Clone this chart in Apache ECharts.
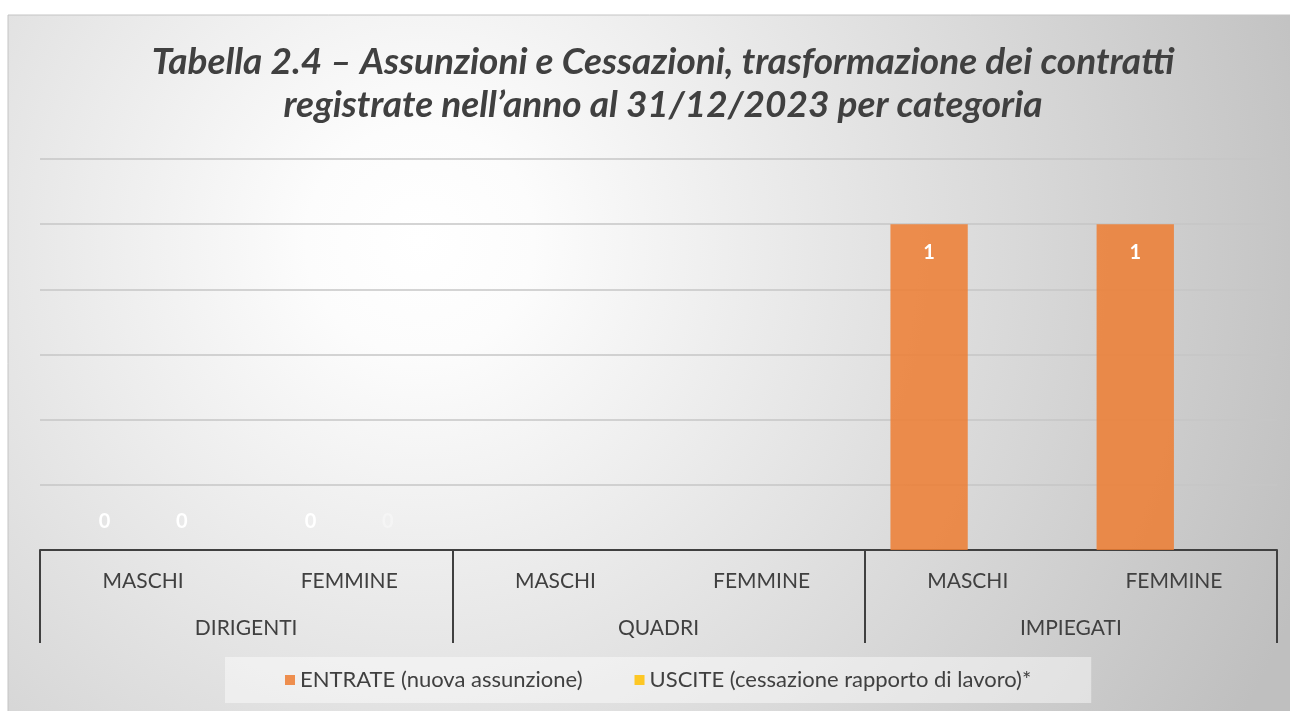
<!DOCTYPE html>
<html>
<head>
<meta charset="utf-8">
<script src="https://cdn.jsdelivr.net/npm/echarts@6/dist/echarts.min.js"></script>
<style>
  html, body { margin: 0; padding: 0; background: #fff; }
  #main { width: 1290px; height: 711px; }
</style>
</head>
<body>
<div id="main"></div>
<script>
// dati
const sottoCategorie = ['MASCHI', 'FEMMINE', 'MASCHI', 'FEMMINE', 'MASCHI', 'FEMMINE'];
const categorie = ['DIRIGENTI', 'QUADRI', 'IMPIEGATI'];
const entrate = [0, 0, null, null, 1, 1];
const uscite = [0, 0, null, null, null, null];
const nomeEntrate = 'ENTRATE (nuova assunzione)';
const nomeUscite = 'USCITE (cessazione rapporto di lavoro)*';
const yTicks = { min: 0, max: 1.2, interval: 0.2 };

const FONT = 'Lato';
const chart = echarts.init(document.getElementById('main'));

// etichetta: "0" appoggiato sull'asse, "1" dentro la barra
function toData(arr, faint) {
  return arr.map(function (v, i) {
    if (v === null) return '-';
    if (v === 0) {
      return {
        value: v,
        label: {
          position: 'top', distance: 18,
          color: (faint && i === 1) ? 'rgba(255,255,255,0.35)' : '#fff'
        }
      };
    }
    return { value: v };
  });
}

const labelBase = {
  show: true,
  position: 'insideTop',
  distance: 18,
  color: '#fff',
  fontFamily: FONT,
  fontWeight: 'bold',
  fontSize: 20
};

chart.setOption({
  animation: false,
  graphic: [{
    type: 'rect',
    silent: true,
    z: -10,
    shape: { x: 8, y: 15, width: 1290, height: 700 },
    style: {
      fill: new echarts.graphic.RadialGradient(420, 240, 950, [
        { offset: 0, color: '#ffffff' },
        { offset: 0.12, color: '#fcfcfc' },
        { offset: 1, color: '#bfbfbf' }
      ], true),
      stroke: '#c4c4c4',
      lineWidth: 1
    }
  }],
  title: {
    text: 'Tabella 2.4 \u2013 Assunzioni e Cessazioni, trasformazione dei contratti\nregistrate nell\u2019anno al 31/12/2023 per categoria',
    left: 658,
    textAlign: 'center',
    top: 36,
    textStyle: {
      fontFamily: FONT,
      fontStyle: 'italic',
      fontWeight: 'bold',
      fontSize: 37,
      lineHeight: 43,
      color: '#404040'
    }
  },
  legend: {
    bottom: 8,
    left: 225,
    data: [nomeEntrate, nomeUscite],
    icon: 'rect',
    itemWidth: 10,
    itemHeight: 10,
    itemGap: 52,
    padding: [12, 60],
    backgroundColor: 'rgba(255,255,255,0.45)',
    textStyle: { fontFamily: FONT, fontSize: 22, color: '#404040' }
  },
  grid: { left: 40, right: 13, top: 159, bottom: 161 },
  xAxis: [{
    type: 'category',
    data: sottoCategorie,
    axisLine: { lineStyle: { color: '#404040', width: 2 } },
    axisTick: { show: false },
    axisLabel: {
      interval: 0, margin: 19, lineHeight: 24,
      fontFamily: FONT, fontSize: 21, color: '#404040'
    }
  }, {
    type: 'category',
    data: categorie,
    position: 'bottom',
    axisLine: { show: false },
    axisTick: { show: true, interval: 0, length: 93, lineStyle: { color: '#404040', width: 2 } },
    axisLabel: {
      interval: 0, margin: 66, lineHeight: 24,
      fontFamily: FONT, fontSize: 21, color: '#404040'
    }
  }],
  yAxis: {
    type: 'value',
    min: yTicks.min,
    max: yTicks.max,
    interval: yTicks.interval,
    axisLabel: { show: false },
    axisLine: { show: false },
    axisTick: { show: false },
    splitLine: { lineStyle: { color: '#c6c6c6', width: 1.5 } }
  },
  series: [{
    name: nomeEntrate,
    type: 'bar',
    xAxisIndex: 0,
    barGap: '0%',
    barCategoryGap: '25%',
    itemStyle: { color: 'rgba(237,125,49,0.85)' },
    label: labelBase,
    data: toData(entrate, false)
  }, {
    name: nomeUscite,
    type: 'bar',
    xAxisIndex: 0,
    barGap: '0%',
    barCategoryGap: '25%',
    itemStyle: { color: 'rgba(255,192,0,0.85)' },
    label: labelBase,
    data: toData(uscite, true)
  }]
});
</script>
</body>
</html>
